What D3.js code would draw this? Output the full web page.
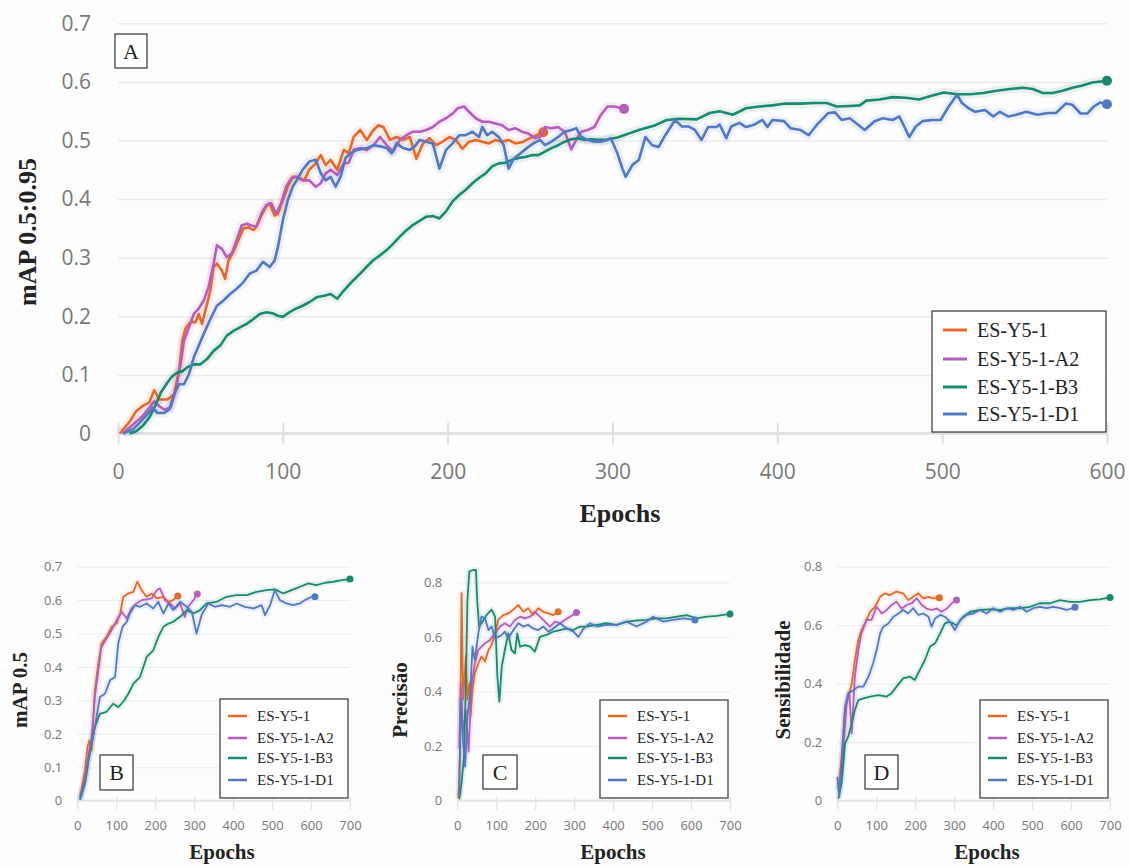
<!DOCTYPE html>
<html>
<head>
<meta charset="utf-8">
<script src="https://cdn.jsdelivr.net/npm/d3@7"></script>
<style>
body { margin: 0; background: #fdfdfd; }
svg { display: block; }
</style>
</head>
<body>
<svg id="chart" width="1129" height="867"></svg>
<script>
//Series names and colours, same order in every panel
var seriesNames = ["ES-Y5-1", "ES-Y5-1-A2", "ES-Y5-1-B3", "ES-Y5-1-D1"];
var seriesColors = ["#e4692a", "#b45db9", "#19896f", "#5178c0"];

//Tick labels
var xTicksA = [0, 100, 200, 300, 400, 500, 600];
var yTicksA = [0, 0.1, 0.2, 0.3, 0.4, 0.5, 0.6, 0.7];
var xTicksSmall = [0, 100, 200, 300, 400, 500, 600, 700];
var yTicksB = [0, 0.1, 0.2, 0.3, 0.4, 0.5, 0.6, 0.7];
var yTicksCD = [0, 0.2, 0.4, 0.6, 0.8];

//Panel A : mAP 0.5:0.95, [epoch, value]
var mapA_base = [[1,0],[7,0.02],[11,0.038],[15,0.047],[19,0.053],[22,0.074],[25,0.058],[30,0.058],[34,0.067],[37,0.107],[39,0.158],[41,0.18],[44,0.19],[47,0.19],[49,0.204],[51,0.187],[54,0.221],[56,0.244],[58,0.284],[60,0.29],[63,0.278],[65,0.264],[67,0.295],[70,0.31],[73,0.33],[76,0.35],[79,0.352],[82,0.347],[84,0.353],[87,0.372],[90,0.387],[92,0.393],[95,0.372],[97,0.375],[100,0.398],[103,0.421],[106,0.438],[109,0.438],[113,0.432],[116,0.45],[120,0.461],[123,0.475],[126,0.458],[129,0.467],[133,0.45],[137,0.484],[140,0.478],[143,0.506],[147,0.518],[151,0.501],[155,0.518],[158,0.526],[161,0.523],[165,0.501],[169,0.506],[173,0.501],[177,0.506],[181,0.469],[185,0.495],[189,0.504],[193,0.492],[197,0.498],[201,0.506],[205,0.501],[209,0.486],[213,0.498],[217,0.501],[221,0.498],[225,0.495],[229,0.501],[233,0.498],[237,0.501],[241,0.495],[246,0.498],[250,0.504],[254,0.509],[258,0.514]];
var mapA_a2 = [[3,0],[9,0.015],[15,0.03],[19,0.044],[22,0.055],[25,0.047],[28,0.041],[32,0.044],[35,0.073],[38,0.118],[40,0.158],[43,0.181],[46,0.204],[49,0.213],[52,0.227],[55,0.25],[58,0.29],[60,0.321],[63,0.315],[66,0.301],[69,0.307],[72,0.33],[75,0.355],[78,0.358],[81,0.355],[84,0.353],[87,0.375],[90,0.39],[93,0.393],[96,0.375],[99,0.393],[102,0.421],[105,0.435],[108,0.438],[112,0.432],[116,0.432],[120,0.421],[123,0.427],[126,0.444],[129,0.45],[133,0.441],[137,0.461],[140,0.462],[143,0.484],[147,0.487],[151,0.484],[155,0.492],[159,0.506],[163,0.492],[167,0.481],[171,0.501],[175,0.509],[179,0.515],[183,0.515],[187,0.518],[191,0.523],[195,0.532],[199,0.538],[203,0.546],[206,0.555],[210,0.558],[213,0.549],[217,0.538],[221,0.532],[225,0.532],[229,0.529],[233,0.526],[237,0.518],[241,0.521],[245,0.515],[249,0.512],[253,0.504],[256,0.506],[259,0.523],[263,0.521],[267,0.523],[271,0.515],[275,0.485],[278,0.501],[281,0.515],[285,0.518],[289,0.523],[293,0.544],[297,0.558],[301,0.558],[307,0.554]];
var mapA_b3 = [[7,0],[11,0.004],[15,0.013],[19,0.027],[23,0.05],[26,0.07],[30,0.087],[33,0.098],[36,0.104],[39,0.106],[42,0.113],[46,0.118],[50,0.118],[54,0.127],[58,0.141],[62,0.15],[66,0.167],[70,0.175],[74,0.181],[78,0.187],[82,0.195],[86,0.204],[90,0.207],[94,0.205],[97,0.201],[100,0.199],[104,0.207],[108,0.213],[112,0.218],[116,0.224],[121,0.233],[125,0.235],[129,0.238],[133,0.23],[137,0.244],[139,0.25],[143,0.262],[147,0.273],[151,0.285],[155,0.296],[159,0.304],[163,0.313],[167,0.324],[171,0.336],[175,0.347],[179,0.356],[183,0.363],[187,0.37],[191,0.371],[195,0.367],[199,0.379],[203,0.396],[207,0.407],[211,0.416],[215,0.427],[219,0.436],[223,0.444],[227,0.456],[231,0.461],[235,0.462],[239,0.467],[243,0.47],[247,0.472],[251,0.475],[255,0.475],[259,0.481],[263,0.487],[267,0.492],[271,0.498],[275,0.502],[279,0.504],[283,0.501],[287,0.502],[291,0.501],[295,0.501],[299,0.503],[303,0.505],[307,0.509],[311,0.513],[316,0.518],[325,0.525],[333,0.535],[341,0.537],[351,0.536],[359,0.547],[365,0.55],[373,0.544],[381,0.555],[389,0.558],[397,0.56],[405,0.563],[414,0.563],[422,0.564],[430,0.564],[436,0.558],[444,0.559],[450,0.56],[454,0.568],[462,0.57],[470,0.574],[478,0.573],[486,0.57],[493,0.576],[501,0.582],[509,0.579],[517,0.579],[525,0.581],[533,0.585],[541,0.588],[549,0.59],[555,0.588],[561,0.581],[567,0.581],[573,0.585],[579,0.59],[585,0.594],[591,0.599],[600,0.602]];
var mapA_d1 = [[3,0],[9,0.007],[13,0.018],[17,0.03],[21,0.044],[24,0.035],[28,0.035],[31,0.041],[34,0.067],[37,0.084],[40,0.084],[43,0.101],[46,0.13],[49,0.15],[52,0.17],[56,0.195],[60,0.218],[64,0.227],[68,0.238],[72,0.247],[76,0.258],[80,0.273],[84,0.278],[88,0.293],[92,0.284],[95,0.295],[97,0.318],[100,0.364],[103,0.398],[106,0.421],[109,0.435],[112,0.45],[116,0.464],[120,0.467],[123,0.444],[126,0.432],[129,0.438],[132,0.421],[135,0.438],[138,0.47],[141,0.478],[145,0.484],[151,0.487],[155,0.492],[159,0.49],[163,0.487],[166,0.478],[169,0.495],[173,0.487],[177,0.484],[180,0.49],[183,0.501],[187,0.498],[191,0.495],[195,0.452],[199,0.484],[203,0.495],[207,0.509],[211,0.509],[215,0.515],[219,0.506],[221,0.523],[224,0.509],[227,0.515],[231,0.506],[234,0.492],[237,0.452],[240,0.469],[244,0.478],[248,0.487],[252,0.495],[256,0.501],[259,0.492],[263,0.498],[267,0.506],[271,0.515],[275,0.518],[278,0.521],[281,0.506],[285,0.501],[289,0.498],[293,0.498],[297,0.501],[299,0.504],[303,0.478],[306,0.452],[308,0.438],[312,0.458],[316,0.467],[320,0.506],[324,0.492],[328,0.489],[332,0.509],[338,0.535],[342,0.524],[346,0.524],[350,0.518],[354,0.501],[358,0.523],[363,0.523],[365,0.527],[369,0.504],[372,0.524],[377,0.53],[381,0.523],[386,0.527],[391,0.535],[394,0.523],[397,0.535],[404,0.533],[408,0.521],[414,0.518],[419,0.509],[424,0.527],[431,0.547],[435,0.548],[439,0.535],[444,0.538],[449,0.527],[453,0.518],[459,0.533],[464,0.538],[470,0.535],[474,0.541],[477,0.524],[480,0.506],[484,0.524],[488,0.533],[494,0.535],[499,0.535],[504,0.558],[509,0.578],[512,0.564],[516,0.555],[520,0.549],[526,0.552],[531,0.541],[535,0.549],[540,0.541],[545,0.544],[551,0.549],[558,0.544],[564,0.547],[569,0.547],[575,0.563],[579,0.561],[584,0.546],[588,0.546],[592,0.558],[596,0.565],[600,0.562]];

//Panel B : mAP 0.5
var mapB_base = [[7,0.012],[20,0.092],[26,0.16],[31,0.18],[37,0.15],[45,0.33],[54,0.41],[62,0.47],[75,0.49],[88,0.52],[101,0.53],[110,0.56],[118,0.61],[131,0.62],[144,0.625],[154,0.655],[165,0.63],[178,0.61],[191,0.62],[204,0.605],[221,0.61],[234,0.595],[246,0.6],[258,0.612]];
var mapB_a2 = [[7,0.007],[20,0.07],[28,0.13],[37,0.19],[45,0.31],[54,0.39],[62,0.46],[75,0.485],[88,0.51],[101,0.54],[114,0.565],[127,0.545],[139,0.575],[152,0.59],[165,0.6],[178,0.602],[191,0.605],[204,0.63],[212,0.635],[225,0.6],[238,0.59],[251,0.575],[264,0.59],[276,0.55],[285,0.58],[298,0.6],[308,0.618]];
var mapB_b3 = [[7,0.002],[20,0.052],[33,0.15],[45,0.22],[58,0.26],[75,0.266],[92,0.29],[105,0.28],[118,0.296],[131,0.32],[144,0.35],[161,0.37],[178,0.43],[195,0.45],[208,0.49],[221,0.52],[234,0.53],[246,0.535],[264,0.55],[281,0.57],[298,0.56],[315,0.57],[332,0.59],[358,0.595],[383,0.61],[409,0.615],[435,0.615],[460,0.625],[486,0.63],[507,0.632],[529,0.62],[550,0.63],[572,0.64],[593,0.65],[614,0.645],[636,0.652],[657,0.655],[679,0.66],[700,0.663]];
var mapB_d1 = [[7,0.004],[20,0.062],[28,0.12],[37,0.17],[45,0.22],[58,0.31],[71,0.32],[84,0.36],[97,0.37],[105,0.47],[116,0.52],[127,0.535],[135,0.56],[148,0.585],[161,0.58],[178,0.59],[195,0.575],[208,0.595],[221,0.56],[234,0.59],[246,0.57],[264,0.595],[281,0.58],[294,0.565],[306,0.5],[319,0.555],[336,0.59],[353,0.58],[371,0.585],[392,0.58],[409,0.59],[430,0.58],[452,0.575],[473,0.585],[482,0.555],[495,0.585],[507,0.63],[520,0.6],[537,0.59],[554,0.585],[572,0.59],[584,0.6],[602,0.61],[610,0.61]];

//Panel C : Precisão
var precC_base = [[3,0.01],[7,0.19],[11,0.76],[15,0.37],[22,0.53],[26,0.37],[31,0.43],[34,0.31],[39,0.405],[45,0.467],[54,0.503],[62,0.528],[71,0.51],[80,0.552],[88,0.57],[97,0.613],[105,0.662],[118,0.68],[131,0.686],[144,0.7],[157,0.717],[169,0.692],[182,0.705],[195,0.68],[208,0.705],[221,0.692],[234,0.686],[246,0.68],[259,0.692]];
var precC_a2 = [[5,0.19],[9,0.43],[15,0.25],[22,0.33],[29,0.18],[37,0.43],[45,0.503],[54,0.552],[62,0.564],[71,0.576],[84,0.589],[97,0.613],[110,0.638],[122,0.65],[135,0.638],[148,0.662],[161,0.674],[174,0.668],[187,0.674],[199,0.692],[212,0.674],[225,0.656],[238,0.638],[251,0.656],[264,0.65],[276,0.662],[289,0.674],[306,0.689]];
var precC_b3 = [[5,0.005],[11,0.064],[17,0.16],[22,0.43],[26,0.735],[31,0.84],[41,0.845],[48,0.845],[51,0.735],[56,0.638],[62,0.65],[75,0.68],[88,0.7],[97,0.674],[103,0.454],[108,0.363],[114,0.49],[122,0.552],[131,0.613],[139,0.552],[148,0.54],[154,0.613],[161,0.564],[174,0.57],[187,0.564],[199,0.546],[212,0.6],[229,0.607],[246,0.619],[264,0.625],[281,0.631],[298,0.625],[315,0.638],[332,0.638],[358,0.644],[383,0.65],[409,0.644],[435,0.656],[460,0.66],[486,0.662],[512,0.668],[537,0.668],[563,0.674],[589,0.68],[614,0.668],[640,0.674],[666,0.677],[700,0.684]];
var precC_d1 = [[5,0.015],[9,0.37],[14,0.235],[20,0.125],[26,0.31],[33,0.39],[39,0.564],[45,0.515],[54,0.613],[62,0.674],[71,0.668],[80,0.625],[88,0.638],[97,0.595],[105,0.6],[114,0.607],[122,0.619],[131,0.595],[144,0.625],[157,0.65],[169,0.638],[182,0.644],[195,0.631],[208,0.625],[221,0.638],[234,0.619],[246,0.631],[264,0.65],[281,0.631],[298,0.619],[311,0.6],[324,0.631],[341,0.65],[358,0.638],[383,0.644],[409,0.644],[435,0.656],[460,0.638],[486,0.656],[503,0.674],[529,0.656],[554,0.662],[580,0.668],[610,0.662]];

//Panel D : Sensibilidade
var sensD_base = [[3,0.036],[11,0.15],[20,0.31],[28,0.356],[37,0.4],[45,0.48],[54,0.55],[62,0.583],[71,0.606],[84,0.646],[97,0.663],[110,0.697],[122,0.709],[135,0.703],[152,0.715],[169,0.709],[182,0.686],[195,0.697],[208,0.709],[221,0.692],[234,0.697],[246,0.692],[262,0.694]];
var sensD_a2 = [[5,0.042],[15,0.173],[24,0.333],[31,0.367],[37,0.23],[45,0.424],[54,0.515],[62,0.572],[75,0.618],[88,0.618],[101,0.663],[114,0.64],[127,0.652],[139,0.669],[152,0.68],[165,0.657],[178,0.669],[191,0.675],[204,0.692],[217,0.669],[229,0.657],[242,0.652],[255,0.657],[268,0.646],[281,0.657],[294,0.675],[306,0.686]];
var sensD_b3 = [[3,0.008],[11,0.06],[20,0.196],[28,0.219],[37,0.264],[45,0.31],[54,0.344],[67,0.35],[84,0.356],[105,0.361],[127,0.356],[139,0.367],[152,0.39],[169,0.418],[187,0.424],[199,0.413],[212,0.447],[225,0.481],[238,0.527],[251,0.538],[264,0.572],[276,0.606],[289,0.612],[306,0.6],[323,0.629],[341,0.646],[366,0.652],[392,0.654],[418,0.652],[443,0.658],[469,0.658],[495,0.663],[520,0.675],[546,0.675],[572,0.686],[597,0.68],[623,0.68],[649,0.686],[674,0.688],[700,0.695]];
var sensD_d1 = [[0,0.082],[5,0.014],[11,0.128],[20,0.321],[28,0.367],[41,0.378],[54,0.39],[67,0.39],[80,0.424],[92,0.47],[101,0.515],[110,0.572],[118,0.595],[131,0.606],[144,0.629],[157,0.64],[169,0.652],[182,0.64],[195,0.658],[208,0.635],[221,0.64],[234,0.629],[242,0.595],[251,0.623],[264,0.635],[276,0.629],[289,0.612],[302,0.583],[315,0.618],[332,0.635],[349,0.64],[366,0.652],[383,0.64],[400,0.658],[418,0.646],[435,0.658],[452,0.652],[469,0.663],[486,0.646],[503,0.658],[520,0.663],[537,0.658],[554,0.663],[572,0.658],[589,0.652],[610,0.661]];

var svg = d3.select("#chart");
var serif = "'Liberation Serif','Times New Roman',serif";
var sans = "'Open Sans','Noto Sans',sans-serif";

var fmtTick = function(d){
  return d === 0 ? "0" : d3.format(".1f")(d);
};

//Draws one panel : grid, axes, lines, legend, letter box
var drawPanel = function(p){
  var x = d3.scaleLinear().domain([0, p.xMax]).range([p.left, p.right]);
  var y = d3.scaleLinear().domain([0, p.yMax]).range([p.bottom, p.top]);
  var g = svg.append("g");

  //horizontal grid lines
  g.append("g")
    .attr("transform", "translate(" + p.left + ",0)")
    .call(d3.axisLeft(y).tickValues(p.yTicks.slice(1)).tickSize(-(p.right - p.left)).tickFormat(""))
    .call(function(a){ a.select(".domain").remove(); })
    .selectAll(".tick line")
      .attr("stroke", "#ebebeb")
      .attr("stroke-width", p.gridW);

  //x axis : thick light base line and ticks
  var xa = g.append("g")
    .attr("transform", "translate(0," + y(0) + ")")
    .call(d3.axisBottom(x).tickValues(p.xTicks).tickSize(p.tickDown));
  xa.select(".domain")
    .attr("d", "M" + p.left + ",0H" + p.right)
    .attr("stroke", "#e2e2e2")
    .attr("stroke-width", p.baseW);
  xa.selectAll(".tick line")
    .attr("y1", -p.tickUp)
    .attr("stroke", "#e0e0e0")
    .attr("stroke-width", p.tickW);
  xa.selectAll(".tick text")
    .attr("y", p.xLabelY)
    .attr("dy", null)
    .attr("fill", "#777")
    .style("font-family", sans)
    .style("font-size", p.tickFont + "px");

  //y tick labels
  var ya = g.append("g")
    .attr("transform", "translate(" + (p.left - p.yLabelGap) + ",0)")
    .call(d3.axisLeft(y).tickValues(p.yTicks).tickSize(0).tickPadding(0).tickFormat(fmtTick));
  ya.select(".domain").remove();
  ya.selectAll(".tick text")
    .attr("fill", "#777")
    .style("font-family", sans)
    .style("font-size", p.tickFont + "px");

  //series lines : faint wide halo then the line
  var line = d3.line()
    .x(function(d){ return x(d[0]); })
    .y(function(d){ return y(d[1]); });

  p.series.forEach(function(s, i){
    g.append("path")
      .datum(s)
      .attr("d", line)
      .attr("fill", "none")
      .attr("stroke", seriesColors[i])
      .attr("stroke-opacity", 0.1)
      .attr("stroke-width", p.lineW * 3.5)
      .attr("stroke-linejoin", "round");
  });
  p.series.forEach(function(s, i){
    g.append("path")
      .datum(s)
      .attr("d", line)
      .attr("fill", "none")
      .attr("stroke", seriesColors[i])
      .attr("stroke-width", p.lineW)
      .attr("stroke-linejoin", "round");
    var last = s[s.length - 1];
    g.append("circle")
      .attr("cx", x(last[0]))
      .attr("cy", y(last[1]))
      .attr("r", p.dotR)
      .attr("fill", seriesColors[i]);
  });

  //axis titles
  g.append("text")
    .attr("x", p.xTitle[0])
    .attr("y", p.xTitle[1])
    .attr("text-anchor", "middle")
    .style("font-family", serif)
    .style("font-weight", "bold")
    .style("font-size", p.titleFont + "px")
    .attr("fill", "#222")
    .text("Epochs");
  g.append("text")
    .attr("transform", "translate(" + p.yTitle[0] + "," + p.yTitle[1] + ") rotate(-90)")
    .attr("text-anchor", "middle")
    .attr("dominant-baseline", "central")
    .style("font-family", serif)
    .style("font-weight", "bold")
    .style("font-size", p.titleFont + "px")
    .attr("fill", "#222")
    .text(p.yLabel);

  //letter box
  var lb = p.letterBox;
  g.append("rect")
    .attr("x", lb[0]).attr("y", lb[1])
    .attr("width", lb[2]).attr("height", lb[3])
    .attr("fill", "#fff")
    .attr("stroke", "#333")
    .attr("stroke-width", 1.2);
  g.append("text")
    .attr("x", lb[0] + lb[2] / 2)
    .attr("y", lb[1] + lb[3] / 2)
    .attr("text-anchor", "middle")
    .attr("dominant-baseline", "central")
    .style("font-family", serif)
    .style("font-size", p.letterFont + "px")
    .attr("fill", "#222")
    .text(p.letter);

  //legend
  var lg = p.legend;
  var leg = g.append("g").attr("transform", "translate(" + lg.x + "," + lg.y + ")");
  leg.append("rect")
    .attr("width", lg.w).attr("height", lg.h)
    .attr("fill", "#fff")
    .attr("stroke", "#333")
    .attr("stroke-width", 1.2);
  var rows = leg.selectAll("g.row")
    .data(seriesNames)
    .enter()
    .append("g")
    .attr("transform", function(d, i){ return "translate(0," + lg.rows[i] + ")"; });
  rows.append("line")
    .attr("x1", lg.lineX[0]).attr("x2", lg.lineX[1])
    .attr("stroke", function(d, i){ return seriesColors[i]; })
    .attr("stroke-width", lg.lineW);
  rows.append("text")
    .attr("x", lg.textX)
    .attr("dominant-baseline", "central")
    .style("font-family", serif)
    .style("font-size", lg.font + "px")
    .attr("fill", "#222")
    .text(function(d){ return d; });
};

//Panel A (top, large)
drawPanel({
  left: 118, right: 1107, top: 23.3, bottom: 433.5,
  xMax: 600, yMax: 0.7, xTicks: xTicksA, yTicks: yTicksA,
  gridW: 1.5, baseW: 3, tickW: 2, tickUp: 11, tickDown: 11, xLabelY: 45,
  tickFont: 21, yLabelGap: 27,
  series: [mapA_base, mapA_a2, mapA_b3, mapA_d1],
  lineW: 2.6, dotR: 5,
  titleFont: 26, xTitle: [620, 522], yTitle: [27, 232], yLabel: "mAP 0.5:0.95",
  letterBox: [115, 34, 32, 34], letter: "A", letterFont: 22,
  legend: { x: 932, y: 311, w: 174, h: 121, rows: [19, 48, 76, 103], lineX: [11, 35], textX: 45, lineW: 3, font: 20 }
});

//Panel B
drawPanel({
  left: 77.3, right: 350, top: 566.7, bottom: 800.7,
  xMax: 700, yMax: 0.7, xTicks: xTicksSmall, yTicks: yTicksB,
  gridW: 1, baseW: 2, tickW: 1.2, tickUp: 4, tickDown: 9, xLabelY: 29,
  tickFont: 13, yLabelGap: 15,
  series: [mapB_base, mapB_a2, mapB_b3, mapB_d1],
  lineW: 1.8, dotR: 3.5,
  titleFont: 21, xTitle: [222, 859], yTitle: [20, 690], yLabel: "mAP 0.5",
  letterBox: [100, 755, 33, 35], letter: "B", letterFont: 22,
  legend: { x: 220, y: 699, w: 128, h: 99, rows: [17, 39, 59, 81], lineX: [8, 27], textX: 37, lineW: 2.5, font: 15 }
});

//Panel C
drawPanel({
  left: 457.3, right: 730, top: 582.3, bottom: 800.7,
  xMax: 700, yMax: 0.8, xTicks: xTicksSmall, yTicks: yTicksCD,
  gridW: 1, baseW: 2, tickW: 1.2, tickUp: 4, tickDown: 9, xLabelY: 29,
  tickFont: 13, yLabelGap: 15,
  series: [precC_base, precC_a2, precC_b3, precC_d1],
  lineW: 1.8, dotR: 3.5,
  titleFont: 21, xTitle: [613, 859], yTitle: [400, 700], yLabel: "Precisão",
  letterBox: [483, 755, 34, 34], letter: "C", letterFont: 22,
  legend: { x: 600, y: 700, w: 128, h: 98, rows: [16, 38, 58, 80], lineX: [8, 27], textX: 37, lineW: 2.5, font: 15 }
});

//Panel D
drawPanel({
  left: 837.3, right: 1110, top: 566.7, bottom: 800.7,
  xMax: 700, yMax: 0.8, xTicks: xTicksSmall, yTicks: yTicksCD,
  gridW: 1, baseW: 2, tickW: 1.2, tickUp: 4, tickDown: 9, xLabelY: 29,
  tickFont: 13, yLabelGap: 15,
  series: [sensD_base, sensD_a2, sensD_b3, sensD_d1],
  lineW: 1.8, dotR: 3.5,
  titleFont: 21, xTitle: [987, 859], yTitle: [783, 680], yLabel: "Sensibilidade",
  letterBox: [865, 755, 33, 34], letter: "D", letterFont: 22,
  legend: { x: 980, y: 700, w: 128, h: 98, rows: [16, 38, 58, 80], lineX: [8, 27], textX: 37, lineW: 2.5, font: 15 }
});
</script>
</body>
</html>
